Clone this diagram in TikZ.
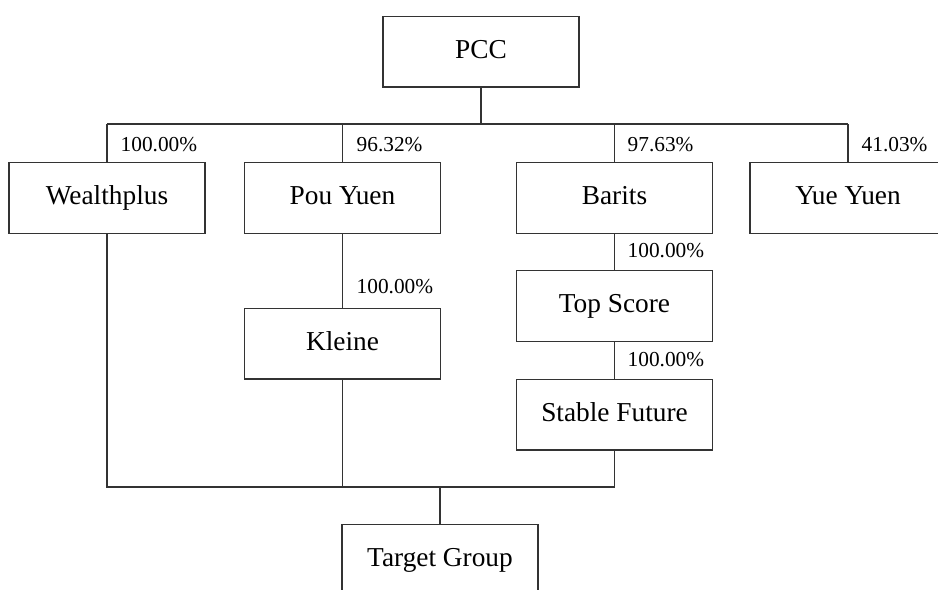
\documentclass[tikz,border=0pt]{standalone}
\usepackage{fontspec}
\setmainfont{Liberation Serif}
\begin{document}
\begin{tikzpicture}[x=0.75pt,y=-0.75pt,
  line width=1pt, draw=black!80,
  box/.style={draw=black!80, line width=1pt, minimum width=147pt, minimum height=53pt, inner sep=0pt, text height=14pt, text depth=4pt, font=\fontsize{20.5}{24}\selectfont},
  pct/.style={anchor=west, inner sep=0pt, font=\fontsize{16}{19}\selectfont}]
\clip (0,0) rectangle (938,589);
\fill[white] (0,0) rectangle (938,589);
\node[box] (pcc) at (481,51.5) {PCC};
\node[box] (wp) at (107,198) {Wealthplus};
\node[box] (py) at (342.5,198) {Pou Yuen};
\node[box] (ba) at (614.5,198) {Barits};
\node[box] (yy) at (848,198) {Yue Yuen};
\node[box] (kl) at (342.5,343.5) {Kleine};
\node[box] (ts) at (614.5,306) {Top Score};
\node[box] (sf) at (614.5,414.5) {Stable Future};
\node[box] (tg) at (440,559.5) {Target Group};
\coordinate (bus) at (0,124);
\coordinate (bot) at (0,487);
\draw (pcc.south) -- (pcc.south |- bus);
\draw (wp.north |- bus) -- (yy.north |- bus);
\foreach \n in {wp,py,ba,yy} \draw (\n.north) -- (\n.north |- bus);
\draw (py.south) -- (kl.north);
\draw (ba.south) -- (ts.north);
\draw (ts.south) -- (sf.north);
\draw (wp.south) -- (wp.south |- bot) -- (sf.south |- bot) -- (sf.south);
\draw (kl.south) -- (kl.south |- bot);
\draw (tg.north |- bot) -- (tg.north);
\node[pct] (l1) at (120,145) {100.00\%};
\node[pct] (l2) at (356,145) {96.32\%};
\node[pct] (l3) at (627,145) {97.63\%};
\node[pct] (l4) at (861,145) {41.03\%};
\node[pct] (l5) at (356,287) {100.00\%};
\node[pct] (l6) at (627,251) {100.00\%};
\node[pct] (l7) at (627,360) {100.00\%};
\end{tikzpicture}
\end{document}
